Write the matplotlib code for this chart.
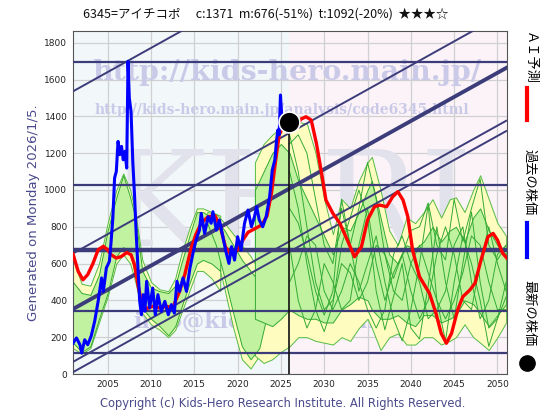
import matplotlib
matplotlib.use("Agg")
import matplotlib.pyplot as plt

# past stock price (blue)
price_years = [2001.0, 2001.4, 2001.8, 2002.0, 2002.35, 2002.7, 2003.1, 2003.5, 2003.9, 2004.3,
               2004.5, 2004.85, 2005.2, 2005.4, 2005.6, 2005.8, 2006.0, 2006.2, 2006.4, 2006.6,
               2006.8, 2007.0, 2007.2, 2007.35, 2007.5, 2007.7, 2007.9, 2008.1, 2008.3, 2008.5,
               2008.7, 2008.9, 2009.1, 2009.3, 2009.5, 2009.85, 2010.2, 2010.5, 2010.8, 2011.2,
               2011.6, 2012.0, 2012.35, 2012.7, 2013.0, 2013.3, 2013.7, 2014.1, 2014.5, 2014.85,
               2015.2, 2015.6, 2015.8, 2016.2, 2016.6, 2016.95, 2017.15, 2017.55, 2017.9, 2018.3,
               2018.7, 2019.0, 2019.3, 2019.65, 2020.0, 2020.4, 2020.8, 2021.2, 2021.6, 2021.95,
               2022.2, 2022.5, 2022.9, 2023.3, 2023.7, 2024.0, 2024.3, 2024.5, 2024.65, 2024.8,
               2024.95, 2025.1, 2025.5, 2025.9]
price_vals = [168, 196, 159, 114, 186, 159, 206, 286, 395, 522,
              449, 576, 612, 721, 848, 1065, 1101, 1264, 1192, 1237,
              1164, 1210, 1119, 1699, 1500, 1427, 1156, 974, 757, 576,
              395, 322, 431, 341, 504, 359, 467, 322, 431, 341,
              395, 322, 377, 331, 504, 449, 522, 449, 576, 656,
              728, 782, 873, 764, 855, 819, 882, 782, 837, 746,
              656, 601, 692, 619, 746, 674, 819, 891, 800, 855,
              909, 837, 800, 855, 963, 1108, 1163, 1271, 1326, 1300,
              1516, 1398, 1344, 1371]

# AI forecast (red)
ai_years = [2001.0, 2001.6, 2002.15, 2002.7, 2003.3, 2003.9, 2004.5, 2005.0, 2005.4, 2006.0,
            2006.6, 2007.2, 2007.7, 2008.1, 2008.5, 2008.9, 2009.5, 2010.2, 2011.0, 2011.8,
            2012.5, 2013.3, 2013.9, 2014.65, 2015.2, 2015.8, 2016.6, 2017.4, 2018.0, 2018.6,
            2019.2, 2019.9, 2020.5, 2021.2, 2022.0, 2022.8, 2023.4, 2023.9, 2024.4, 2024.8,
            2025.3, 2026.0, 2026.8, 2027.3, 2027.9, 2028.5, 2029.1, 2029.7, 2030.2, 2031.0,
            2031.8, 2032.5, 2033.5, 2034.3, 2035.0, 2035.8, 2036.4, 2037.2, 2037.9, 2038.5,
            2039.1, 2039.65, 2040.2, 2041.0, 2042.15, 2042.9, 2043.5, 2044.1, 2044.7, 2045.4,
            2046.0, 2046.8, 2047.4, 2048.1, 2048.9, 2049.5, 2050.0, 2050.6, 2051.1]
ai_vals = [652, 558, 512, 540, 600, 675, 694, 675, 648, 630,
           639, 660, 648, 594, 485, 395, 355, 368, 359, 368,
           359, 449, 540, 685, 760, 820, 855, 860, 800, 690,
           650, 670, 720, 770, 790, 810, 860, 980, 1163, 1300,
           1345, 1360, 1345, 1385, 1398, 1380, 1253, 1090, 945, 873,
           819, 746, 637, 692, 837, 909, 918, 909, 963, 991,
           945, 855, 674, 529, 438, 330, 221, 167, 221, 348,
           420, 456, 493, 619, 746, 764, 728, 656, 629]

# forecast fan: outer (yellow) and inner (green) bands
fan_years = [2001.0, 2002.0, 2003.0, 2004.0, 2005.0, 2006.0, 2006.8, 2007.6, 2008.2, 2009.0,
             2010.0, 2011.0, 2012.0, 2012.8, 2013.5, 2014.5, 2015.3, 2016.0, 2017.0, 2018.0]
fan_y_hi = [620, 490, 480, 600, 820, 1000, 1090, 1000, 880, 620,
            500, 460, 450, 520, 650, 800, 900, 900, 880, 860]
fan_g_hi = [500, 440, 430, 540, 780, 960, 1080, 960, 850, 560,
            470, 450, 440, 480, 600, 760, 880, 880, 850, 830]
fan_g_lo = [170, 120, 150, 300, 440, 640, 690, 650, 540, 360,
            300, 260, 210, 260, 360, 500, 600, 620, 600, 560]
fan_y_lo = [140, 110, 140, 280, 420, 600, 650, 600, 500, 330,
            270, 240, 200, 240, 330, 460, 560, 560, 520, 450]

back_years = [2016.5, 2017.5, 2018.5, 2019.5, 2020.5, 2021.5, 2022.5, 2023.3]
back_y_hi = [880, 870, 820, 760, 700, 640, 560, 500]
back_g_hi = [860, 840, 780, 700, 620, 560, 500, 450]
back_g_lo = [820, 700, 520, 330, 150, 80, 140, 300]
back_y_lo = [800, 650, 460, 250, 80, 30, 100, 250]

fut_years = [2022.0, 2023.0, 2024.0, 2025.0, 2026.0, 2027.0, 2028.0, 2029.0, 2030.0, 2031.0,
             2032.0, 2033.0, 2034.0, 2035.0, 2035.5, 2036.5, 2037.5, 2038.5, 2039.5, 2040.5,
             2041.5, 2042.5, 2043.5, 2044.5, 2045.2, 2046.2, 2047.2, 2048.0, 2049.0, 2050.0, 2051.0]
fut_y_hi = [1150, 1250, 1300, 1340, 1370, 1370, 1360, 1200, 950, 760,
            950, 900, 1050, 1150, 1180, 1000, 780, 700, 850, 820,
            880, 950, 850, 950, 960, 880, 1000, 1080, 950, 820, 750]
fut_g_hi = [1000, 1100, 1200, 1250, 1200, 1050, 950, 850, 750, 650,
            800, 780, 880, 1000, 1050, 850, 650, 600, 700, 680,
            720, 800, 720, 780, 800, 720, 850, 900, 780, 700, 650]
fut_g_lo = [300, 280, 260, 300, 350, 320, 300, 300, 280, 280,
            350, 380, 420, 400, 350, 300, 300, 320, 280, 260,
            320, 320, 280, 300, 320, 400, 380, 330, 260, 320, 380]
fut_y_lo = [100, 60, 80, 120, 150, 200, 200, 180, 170, 160,
            200, 180, 250, 300, 250, 130, 200, 220, 160, 160,
            200, 200, 160, 180, 200, 270, 200, 170, 130, 200, 280]

# individual forecast paths (thin green)
path_years = [2026, 2027, 2028, 2029, 2030, 2031, 2032, 2033, 2034, 2035, 2036, 2037, 2038,
              2039, 2040, 2041, 2042, 2043, 2044, 2045, 2046, 2047, 2048, 2049, 2050, 2051]
path_1 = [1250, 1300, 1200, 950, 700, 600, 900, 700, 900, 1150, 950, 650, 520,
          650, 780, 800, 930, 700, 620, 950, 720, 900, 1060, 700, 620, 700]
path_2 = [1100, 900, 600, 350, 230, 380, 700, 850, 1000, 850, 450, 240, 420,
          600, 250, 190, 480, 800, 500, 300, 600, 880, 500, 250, 300, 420]
path_3 = [900, 820, 650, 450, 320, 450, 950, 700, 450, 600, 750, 500, 300,
          180, 350, 600, 920, 400, 180, 500, 750, 600, 400, 150, 300, 500]
path_4 = [700, 400, 250, 350, 600, 500, 350, 400, 700, 900, 600, 400, 550,
          650, 450, 300, 400, 650, 800, 650, 400, 350, 600, 800, 600, 450]
path_5 = [500, 600, 750, 700, 450, 350, 450, 600, 500, 350, 250, 350, 650,
          750, 600, 500, 300, 350, 450, 700, 800, 500, 300, 400, 650, 700]
path_6 = [1300, 1100, 800, 500, 350, 400, 600, 550, 400, 500, 700, 650, 450,
          400, 600, 700, 550, 400, 300, 400, 550, 750, 700, 500, 350, 350]
paths = [path_1, path_2, path_3, path_4, path_5, path_6]

# reference levels
h_levels = [1695, 1028, 341, 114]
mean_level = 676
trend_years = [2001, 2051]
trend_slope = 26.2
trend_starts = [1536, 655, 66, 10]
trend_main_start = 353

latest_year = 2025.95
latest_price = 1371

plt.rcParams["font.family"] = ["DejaVu Sans", "Noto Sans CJK JP"]
jp = ["Noto Sans CJK JP", "DejaVu Sans"]
navy = "#3c3c7a"
wm = "#cacae8"

fig = plt.figure(figsize=(5.6, 4.2), dpi=100)
ax = fig.add_axes([73 / 560, 1 - 374 / 420, 434 / 560, 343 / 420])
ax.set_xlim(2001.0, 2051.1)
ax.set_ylim(0, 1864)

ax.axvspan(2001.0, latest_year, color="#f2f7fa", zorder=0)
ax.axvspan(latest_year, 2051.1, color="#fbf3f8", zorder=0)
ax.set_xticks(range(2005, 2051, 5))
ax.set_yticks(range(0, 1801, 200))
ax.grid(True, color="#d0d0d0", linewidth=0.9, zorder=0.5)
ax.set_axisbelow(True)
ax.tick_params(labelsize=6.5, length=0, pad=4, colors="#222222")
for s in ax.spines.values():
    s.set_color("#555555")

# watermarks
ax.text(0.5, 0.48, "KHRI", transform=ax.transAxes, fontsize=95, family="DejaVu Serif",
        color="#e2e2ec", ha="center", va="center", zorder=1, clip_on=True)
ax.text(287, 420 - 72, "http://kids-hero.main.jp/", transform=None, fontsize=20.5,
        family="DejaVu Serif", weight="bold", color=wm, ha="center", va="center", zorder=1)
ax.text(282, 420 - 110, "http://kids-hero.main.jp/analysis/code6345.html", transform=None,
        fontsize=10, family="DejaVu Serif", weight="bold", color=wm, ha="center", va="center", zorder=1)
ax.text(278, 420 - 322, "info@kids-hero.main.jp", transform=None, fontsize=16,
        family="DejaVu Serif", weight="bold", color=wm, ha="center", va="center", zorder=1)

# fan
for yrs, yh, gh, gl, yl in [(fan_years, fan_y_hi, fan_g_hi, fan_g_lo, fan_y_lo),
                            (back_years, back_y_hi, back_g_hi, back_g_lo, back_y_lo),
                            (fut_years, fut_y_hi, fut_g_hi, fut_g_lo, fut_y_lo)]:
    ax.fill_between(yrs, yl, yh, color="#fffcc0", edgecolor="#55bb44", linewidth=0.7, zorder=2)
    ax.fill_between(yrs, gl, gh, color="#c0f2a0", edgecolor="#33aa33", linewidth=0.7, zorder=2.1)
for p in paths:
    ax.plot(path_years, p, color="#33aa33", linewidth=0.7, zorder=2.2)

# channels
for lv in h_levels:
    ax.axhline(lv, color=navy, linewidth=1.6, zorder=3)
ax.axhline(mean_level, color=navy, linewidth=3.2, zorder=3)
for st in trend_starts:
    ax.plot(trend_years, [st, st + trend_slope * 50], color=navy, linewidth=1.4, zorder=3)
ax.plot(trend_years, [trend_main_start, trend_main_start + trend_slope * 50],
        color=navy, linewidth=2.8, zorder=3)

ax.plot(ai_years, ai_vals, color="#ff0000", linewidth=2.4, zorder=4)
ax.plot(price_years, price_vals, color="#0000ff", linewidth=2.2, zorder=5)
ax.plot([latest_year, latest_year], [0, latest_price], color="#111111", linewidth=1.2, zorder=5)
ax.plot([latest_year], [latest_price], "o", color="black", markersize=15,
        markeredgecolor="white", markeredgewidth=1.2, zorder=6)

fig.text(266 / 560, 1 - 14 / 420,
         "6345=アイチコポ　 c:1371  m:676(-51%)  t:1092(-20%)  ★★★☆",
         family=jp, fontsize=9, ha="center", va="center", color="#111111")
fig.text(34 / 560, 1 - 213 / 420, "Generated on Monday 2026/1/5.", rotation=90,
         fontsize=9.5, color="#4a4a8c", ha="center", va="center")
fig.text(283 / 560, 1 - 404 / 420,
         "Copyright (c) Kids-Hero Research Institute. All Rights Reserved.",
         fontsize=8.3, color="#4a4a8c", ha="center", va="center")

# right-side legend
fig.text(529 / 560, 1 - 58 / 420, "ＡＩ予測", rotation=270, family=jp, fontsize=9.5,
         ha="center", va="center")
fig.add_artist(plt.Line2D([527 / 560, 527 / 560], [1 - 88 / 420, 1 - 120 / 420],
                          color="#ff0000", linewidth=3))
fig.text(529 / 560, 1 - 182 / 420, "過去の株価", rotation=270, family=jp, fontsize=9.5,
         ha="center", va="center")
fig.add_artist(plt.Line2D([527 / 560, 527 / 560], [1 - 223 / 420, 1 - 257 / 420],
                          color="#0000ff", linewidth=3))
fig.text(529 / 560, 1 - 313 / 420, "最新の株価", rotation=270, family=jp, fontsize=9.5,
         ha="center", va="center")
fig.add_artist(plt.Line2D([527 / 560], [1 - 363 / 420], marker="o", markersize=11,
                          color="black", linestyle="none"))

fig.savefig("out.png", dpi=100)
